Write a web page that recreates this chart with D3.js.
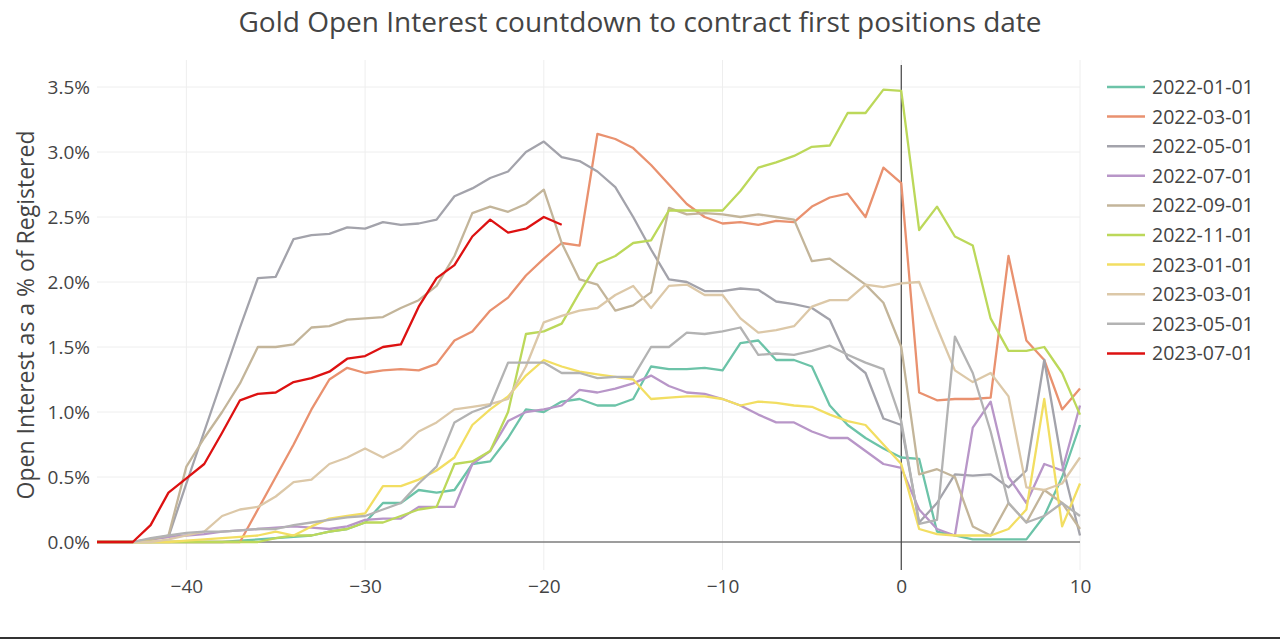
<!DOCTYPE html>
<html><head><meta charset="utf-8">
<script src="https://cdn.jsdelivr.net/npm/d3@7"></script>
<style>body{margin:0;background:#fff}text{font-family:"Open Sans",sans-serif}</style>
</head><body><svg id="c" width="1280" height="641"></svg>
<script>
const days = d3.range(-45, 11);
const seriesNames = ["2022-01-01","2022-03-01","2022-05-01","2022-07-01","2022-09-01","2022-11-01","2023-01-01","2023-03-01","2023-05-01","2023-07-01"];
const colors = ["#6cc3a8","#e9916f","#a3a3ab","#b896c8","#c3b59a","#bcd85a","#f2de62","#dcc8a8","#b3b3b3","#dd1111"];
// values in %, index 0 = day -45
const s2201 = [0,0,0,0,0,0,0,0,0.01,0.02,0.03,0.04,0.05,0.08,0.1,0.15,0.3,0.3,0.4,0.38,0.4,0.6,0.62,0.8,1.02,1.0,1.08,1.1,1.05,1.05,1.1,1.35,1.33,1.33,1.34,1.32,1.53,1.55,1.4,1.4,1.35,1.05,0.9,0.8,0.72,0.65,0.64,0.08,0.05,0.02,0.02,0.02,0.02,0.2,0.5,0.9,0.3];
const s2203 = [0,0,0,0,0,0,0,0,0,0.25,0.5,0.75,1.02,1.25,1.34,1.3,1.32,1.33,1.32,1.37,1.55,1.62,1.78,1.88,2.05,2.18,2.3,2.28,3.14,3.1,3.03,2.9,2.75,2.6,2.5,2.45,2.46,2.44,2.47,2.46,2.58,2.65,2.68,2.5,2.88,2.76,1.15,1.09,1.1,1.1,1.11,2.2,1.55,1.4,1.02,1.18];
const s2205 = [0,0,0,0.02,0.04,0.45,0.85,1.25,1.65,2.03,2.04,2.33,2.36,2.37,2.42,2.41,2.46,2.44,2.45,2.48,2.66,2.72,2.8,2.85,3.0,3.08,2.96,2.93,2.85,2.73,2.5,2.25,2.02,2.0,1.93,1.93,1.95,1.94,1.85,1.83,1.8,1.71,1.41,1.3,0.95,0.9,0.15,0.3,0.52,0.51,0.52,0.42,0.55,1.4,0.6,0.05];
const s2207 = [0,0,0,0.02,0.04,0.05,0.06,0.08,0.09,0.1,0.11,0.12,0.11,0.1,0.12,0.17,0.18,0.18,0.27,0.27,0.27,0.6,0.7,0.93,1.0,1.02,1.05,1.17,1.15,1.18,1.22,1.28,1.2,1.15,1.14,1.1,1.05,0.98,0.92,0.92,0.85,0.8,0.8,0.7,0.6,0.57,0.25,0.1,0.05,0.88,1.08,0.5,0.3,0.6,0.55,1.05];
const s2209 = [0,0,0,0.02,0.05,0.58,0.8,1.0,1.22,1.5,1.5,1.52,1.65,1.66,1.71,1.72,1.73,1.8,1.86,1.97,2.2,2.53,2.58,2.54,2.6,2.71,2.3,2.02,1.98,1.78,1.82,1.92,2.57,2.52,2.53,2.52,2.5,2.52,2.5,2.48,2.16,2.18,2.08,1.98,1.84,1.5,0.52,0.56,0.5,0.12,0.05,0.3,0.15,0.4,0.3,0.1];
const s2211 = [0,0,0,0,0,0,0,0,0,0,0.03,0.05,0.05,0.08,0.1,0.15,0.15,0.2,0.25,0.27,0.6,0.62,0.7,1.0,1.6,1.62,1.68,1.92,2.14,2.2,2.3,2.32,2.55,2.55,2.55,2.55,2.7,2.88,2.92,2.97,3.04,3.05,3.3,3.3,3.48,3.47,2.4,2.58,2.35,2.28,1.72,1.47,1.47,1.5,1.3,0.98];
const s2301 = [0,0,0,0,0,0.01,0.02,0.03,0.04,0.05,0.08,0.05,0.12,0.18,0.2,0.22,0.43,0.43,0.48,0.55,0.65,0.9,1.02,1.12,1.28,1.4,1.35,1.31,1.29,1.27,1.25,1.1,1.11,1.12,1.12,1.1,1.05,1.08,1.07,1.05,1.04,0.98,0.93,0.9,0.75,0.6,0.1,0.06,0.05,0.05,0.05,0.1,0.25,1.1,0.12,0.45];
const s2303 = [0,0,0,0,0.02,0.05,0.08,0.2,0.25,0.27,0.35,0.46,0.48,0.6,0.65,0.72,0.65,0.72,0.85,0.92,1.02,1.04,1.06,1.1,1.35,1.69,1.74,1.78,1.8,1.9,1.97,1.8,1.97,1.98,1.9,1.9,1.72,1.61,1.63,1.66,1.81,1.86,1.86,1.98,1.96,1.99,2.0,1.65,1.32,1.23,1.3,1.12,0.42,0.4,0.45,0.65];
const s2305 = [0,0,0,0.03,0.05,0.07,0.08,0.08,0.09,0.1,0.1,0.13,0.15,0.17,0.19,0.2,0.25,0.3,0.45,0.58,0.92,1.0,1.05,1.38,1.38,1.38,1.3,1.3,1.26,1.27,1.27,1.5,1.5,1.61,1.6,1.62,1.65,1.44,1.45,1.44,1.47,1.51,1.44,1.38,1.33,0.93,0.14,0.17,1.58,1.3,0.85,0.3,0.15,0.2,0.3,0.2];
const s2307 = [0,0,0,0.13,0.38,0.49,0.6,0.84,1.09,1.14,1.15,1.23,1.26,1.31,1.41,1.43,1.5,1.52,1.81,2.03,2.13,2.35,2.48,2.38,2.41,2.5,2.44];
const allSeries = [s2201,s2203,s2205,s2207,s2209,s2211,s2301,s2303,s2305,s2307];
const yTicks = [0,0.5,1,1.5,2,2.5,3,3.5];
const xTicks = [-40,-30,-20,-10,0,10];

const svg = d3.select("#c");
const x = d3.scaleLinear().domain([-45,10]).range([97,1080]);
const y = d3.scaleLinear().domain([0,3.5]).range([542,87]);

svg.append("g").selectAll("line").data(yTicks).join("line")
  .attr("x1",97).attr("x2",1080).attr("y1",d=>y(d)).attr("y2",d=>y(d)).attr("stroke","#eee");
svg.append("g").selectAll("line").data(xTicks).join("line")
  .attr("y1",60).attr("y2",570).attr("x1",d=>x(d)).attr("x2",d=>x(d)).attr("stroke","#eee");

const yAx = svg.append("g").attr("transform","translate(97,0)")
  .call(d3.axisLeft(y).tickValues(yTicks).tickFormat(d=>d.toFixed(1)+"%").tickSize(0).tickPadding(7));
const xAx = svg.append("g").attr("transform","translate(0,572)")
  .call(d3.axisBottom(x).tickValues(xTicks).tickFormat(d=>d<0?"\u2212"+(-d):d).tickSize(0).tickPadding(8));
[yAx,xAx].forEach(a=>{a.select(".domain").remove();a.selectAll("text").attr("font-size",19).attr("fill","#444").attr("font-family","Open Sans");});

svg.append("line").attr("x1",97).attr("x2",1080).attr("y1",y(0)).attr("y2",y(0)).attr("stroke","#444").attr("stroke-width",1.2);
svg.append("line").attr("x1",x(0)).attr("x2",x(0)).attr("y1",65).attr("y2",570).attr("stroke","#444").attr("stroke-width",1.2);

const line = d3.line().x((d,i)=>x(days[i])).y(d=>y(d));
allSeries.forEach((s,k)=>{
  svg.append("path").datum(s).attr("d",line).attr("fill","none")
    .attr("stroke",colors[k]).attr("stroke-width",2.3).attr("stroke-linejoin","round");
});

const lg = svg.append("g");
seriesNames.forEach((n,k)=>{
  const yy = 87 + k*29.6;
  lg.append("line").attr("x1",1107).attr("x2",1145).attr("y1",yy).attr("y2",yy).attr("stroke",colors[k]).attr("stroke-width",2.5);
  lg.append("text").attr("x",1152).attr("y",yy+7).attr("font-size",19.5).attr("fill","#444").text(n);
});

svg.append("text").attr("x",640).attr("y",32).attr("text-anchor","middle").attr("font-size",28).attr("fill","#444").text("Gold Open Interest countdown to contract first positions date");
svg.append("text").attr("transform","translate(34,315) rotate(-90)").attr("text-anchor","middle").attr("font-size",23).attr("fill","#444").text("Open Interest as a % of Registered");
svg.append("line").attr("x1",0).attr("x2",1280).attr("y1",638).attr("y2",638).attr("stroke","#333").attr("stroke-width",2);
</script></body></html>
